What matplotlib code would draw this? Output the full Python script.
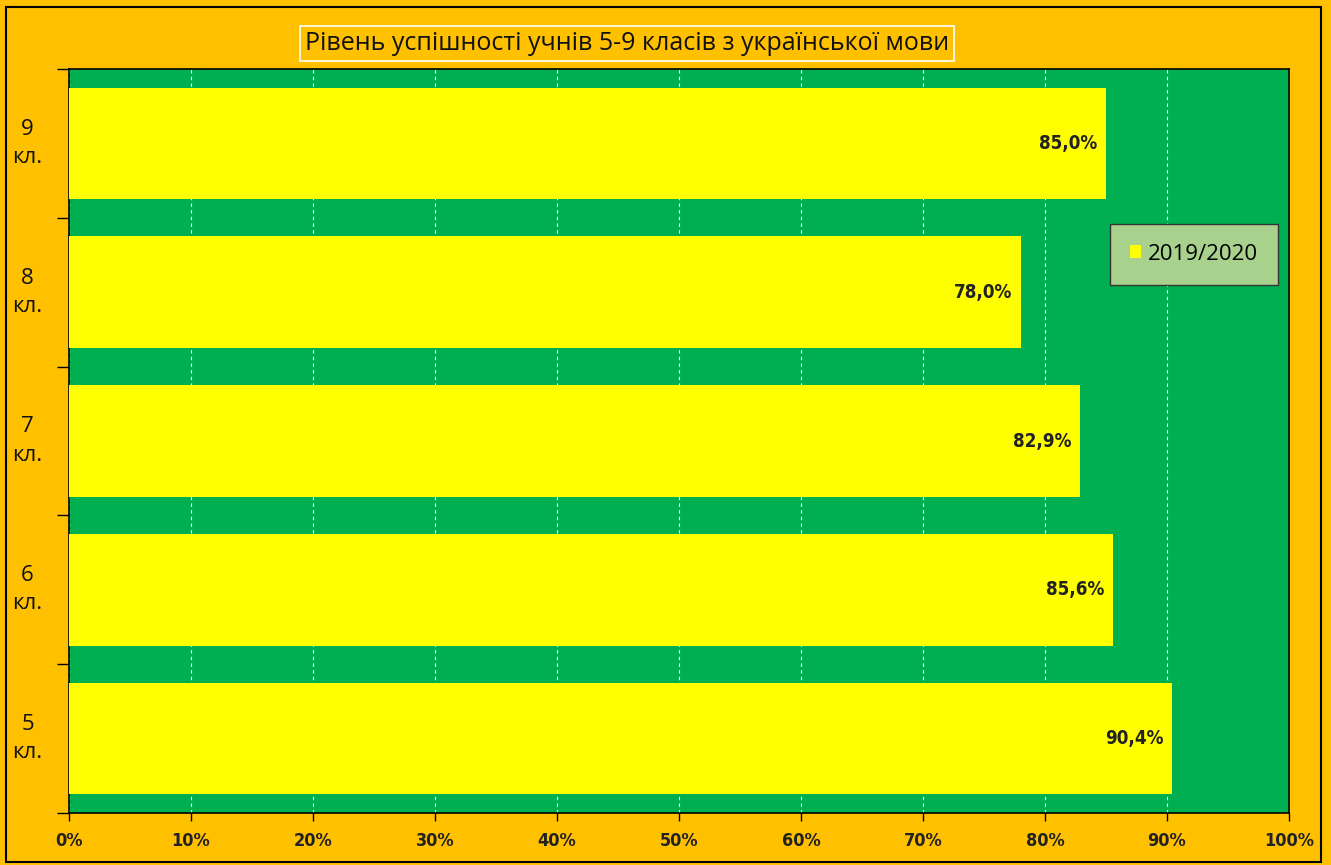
import matplotlib.pyplot as plt
from matplotlib.patches import Rectangle

# data, bottom to top
classes = ['5\nкл.', '6\nкл.', '7\nкл.', '8\nкл.', '9\nкл.']
values = [90.4, 85.6, 82.9, 78.0, 85.0]
series_name = '2019/2020'
title = 'Рівень успішності учнів 5-9 класів з української мови'
xticks = list(range(0, 101, 10))

orange = '#FFC000'
green = '#00B050'
yellow = '#FFFF00'

plt.rcParams['font.family'] = ['Open Sans', 'DejaVu Sans']

fig = plt.figure(figsize=(13.31, 8.65), dpi=100, facecolor=orange)
# outer black frame
fig.patches.append(Rectangle((6/1331, 3/865), 1315/1331, 855/865, transform=fig.transFigure,
                             fill=False, edgecolor='black', linewidth=1.5))

ax = fig.add_axes([69/1331, 1 - 813/865, 1220/1331, 744/865])
ax.set_facecolor(green)

ypos = list(range(len(classes)))
bars = ax.barh(ypos, values, height=0.75, color=yellow, label=series_name, zorder=3)

ax.set_xlim(0, 100)
ax.set_ylim(-0.5, len(classes) - 0.5)
ax.set_xticks(xticks)
ax.set_xticklabels([f'{t}%' for t in xticks], fontsize=13, fontweight='bold',
                   family='DejaVu Sans', fontstretch='condensed', color='#222222')
ax.xaxis.grid(True, color='white', linestyle=(0, (3, 3)), linewidth=0.8, zorder=1)
ax.tick_params(axis='x', length=6, width=1, pad=8)

# category labels centred, ticks at boundaries
ax.set_yticks([i - 0.5 for i in range(len(classes) + 1)])
ax.set_yticklabels([])
ax.tick_params(axis='y', length=9, width=1)
for y, lab in zip(ypos, classes):
    ax.text(-0.034, y, lab, transform=ax.get_yaxis_transform(), ha='center', va='center',
            fontsize=16, linespacing=1.45, color='#111111')

for spine in ax.spines.values():
    spine.set_color('black')
    spine.set_linewidth(1.2)

for b, v in zip(bars, values):
    ax.text(v - 0.7, b.get_y() + b.get_height() / 2, f'{v:.1f}%'.replace('.', ','),
            ha='right', va='center', fontsize=13.5, fontweight='bold',
            family='DejaVu Sans', fontstretch='condensed', color='#222222', zorder=4)

fig.text(627/1331, 1 - 43/865, title, ha='center', va='center', fontsize=18, color='#111111',
         bbox=dict(boxstyle='square,pad=0.2', facecolor=orange, edgecolor='white', linewidth=1.2))

leg = ax.legend(loc='center', bbox_to_anchor=((1194 - 69) / 1220, (813 - 254) / 744),
                fontsize=16, frameon=True, fancybox=False, handlelength=0.5, handleheight=0.5,
                handletextpad=0.3, borderpad=0.9, facecolor='#A9D18E', edgecolor='#333333')
leg.get_frame().set_alpha(1)

fig.savefig('out.png', dpi=100, facecolor=orange)
